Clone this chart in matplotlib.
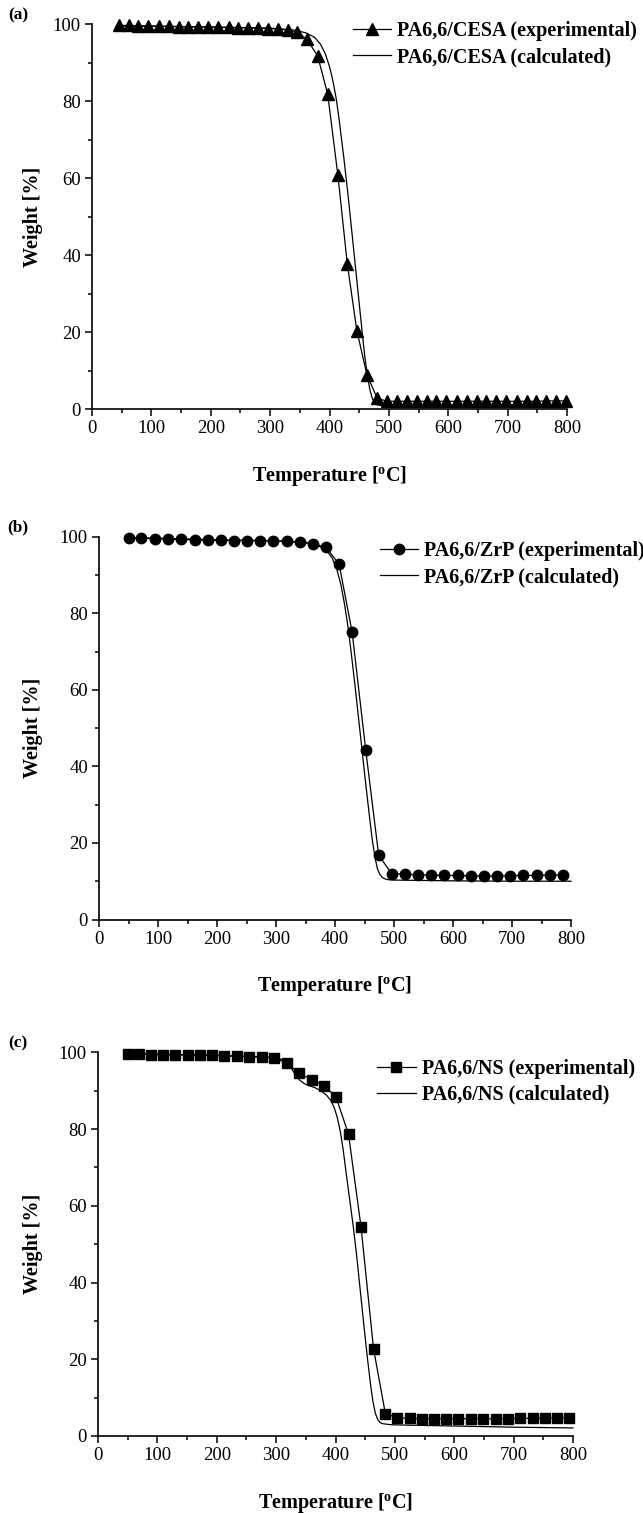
import matplotlib
matplotlib.use('Agg')
import matplotlib.pyplot as plt
from matplotlib.ticker import MultipleLocator

plt.rcParams['font.family'] = ['Liberation Serif', 'DejaVu Serif']
plt.rcParams['mathtext.fontset'] = 'custom'
plt.rcParams['mathtext.rm'] = 'Liberation Serif'
plt.rcParams['mathtext.bf'] = 'Liberation Serif:bold'

# ---------------- data ----------------
# (a) PA6,6/CESA
cesa_exp_T = [45, 62, 78, 95, 112, 129, 146, 162, 179, 196, 213, 230, 246, 263, 280, 297, 313, 330,
              345, 362, 380, 397, 414, 430, 446, 463, 480, 496, 513, 530, 547, 564, 580, 597, 614,
              631, 648, 664, 681, 698, 715, 732, 748, 765, 782, 798]
cesa_exp_W = [99.7, 99.7, 99.6, 99.6, 99.5, 99.5, 99.4, 99.4, 99.3, 99.3, 99.2, 99.2, 99.1, 99.1, 99.0,
              98.9, 98.8, 98.5, 97.9, 96.1, 91.8, 81.8, 60.9, 37.7, 20.4, 8.9, 2.9, 2.0, 2.0, 2.0, 2.0,
              2.0, 2.0, 2.0, 2.0, 2.0, 2.0, 2.0, 2.0, 2.0, 2.0, 2.0, 2.0, 2.1, 2.1, 2.1]
cesa_calc_T = [45, 100, 200, 300, 340, 360, 375, 385, 393, 400, 404, 408, 412, 416, 420, 424, 428, 432,
               436, 440, 444, 448, 452, 456, 460, 464, 468, 472, 476, 480, 490, 500, 600, 700, 800]
cesa_calc_W = [99.6, 99.5, 99.3, 99.0, 98.5, 97.8, 96.6, 94.8, 92.3, 89.0, 86.5, 83.5, 80.0, 75.5, 70.5,
               65.5, 60.0, 54.5, 48.5, 42.5, 36.5, 30.5, 24.5, 18.5, 13.0, 8.5, 5.0, 2.8, 1.6, 1.1, 0.8,
               0.7, 0.6, 0.6, 0.6]

# (b) PA6,6/ZrP
zrp_exp_T = [50, 72, 95, 117, 139, 162, 184, 206, 228, 251, 273, 295, 318, 340, 362, 385, 407, 429,
             452, 474, 496, 519, 541, 563, 585, 608, 630, 652, 675, 697, 719, 742, 764, 786]
zrp_exp_W = [99.7, 99.6, 99.5, 99.4, 99.3, 99.2, 99.1, 99.1, 99.0, 99.0, 99.0, 98.9, 98.8, 98.6, 98.2,
             97.2, 92.8, 75.1, 44.4, 16.8, 12.0, 11.8, 11.7, 11.6, 11.5, 11.5, 11.4, 11.4, 11.4, 11.4,
             11.5, 11.5, 11.6, 11.7]
zrp_calc_T = [45, 100, 200, 300, 350, 370, 385, 395, 403, 410, 416, 422, 428, 434, 440, 446, 452, 458,
              463, 468, 472, 476, 480, 485, 490, 500, 550, 600, 700, 800]
zrp_calc_W = [99.8, 99.6, 99.2, 98.9, 98.5, 97.8, 96.5, 94.5, 91.5, 87.5, 82.5, 76.5, 69.0, 61.0, 52.5,
              44.0, 35.5, 27.5, 21.0, 16.0, 13.2, 11.8, 11.0, 10.6, 10.4, 10.3, 10.2, 10.1, 10.0, 10.0]

# (c) PA6,6/NS
ns_exp_T = [50, 69, 89, 110, 130, 151, 172, 192, 213, 234, 255, 276, 297, 318, 339, 360, 381, 401, 422,
            443, 464, 484, 504, 525, 545, 566, 586, 607, 628, 649, 670, 690, 711, 732, 752, 773, 794]
ns_exp_W = [99.5, 99.5, 99.4, 99.4, 99.3, 99.3, 99.2, 99.2, 99.1, 99.0, 98.9, 98.8, 98.5, 97.2, 94.5,
            92.9, 91.3, 88.3, 78.6, 54.5, 22.8, 5.8, 4.8, 4.6, 4.5, 4.5, 4.5, 4.5, 4.5, 4.5, 4.5, 4.5,
            4.6, 4.6, 4.6, 4.7, 4.7]
ns_calc_T = [45, 100, 200, 300, 315, 325, 333, 340, 348, 356, 365, 375, 385, 392, 398, 403, 408, 413,
             418, 424, 430, 436, 442, 448, 454, 459, 463, 467, 471, 475, 480, 490, 500, 600, 700, 800]
ns_calc_W = [99.6, 99.5, 99.2, 98.6, 97.8, 96.0, 94.0, 92.7, 91.8, 91.3, 90.8, 90.0, 88.8, 87.5, 85.5,
             83.0, 79.5, 74.5, 68.5, 61.5, 54.5, 46.5, 37.5, 28.5, 20.0, 13.5, 9.0, 6.0, 4.3, 3.5, 3.2,
             3.0, 2.9, 2.6, 2.3, 2.1]

x_label = 'Temperature [$\\mathbf{^{o}}$C]'
y_label = 'Weight [%]'
panel_tags = ['(a)', '(b)', '(c)']
exp_labels = ['PA6,6/CESA (experimental)', 'PA6,6/ZrP (experimental)', 'PA6,6/NS (experimental)']
calc_labels = ['PA6,6/CESA (calculated)', 'PA6,6/ZrP (calculated)', 'PA6,6/NS (calculated)']

# ---------------- layout ----------------
W, H = 643, 1513
fig = plt.figure(figsize=(W / 100, H / 100), dpi=100)

# pixel geometry: (left, right, top(100), bottom(0))
geoms = [(92, 567, 24.3, 409.0), (99, 571, 536.7, 919.5), (98, 573, 1052.3, 1436.0)]
markers = ['^', 'o', 's']
msizes = [8, 7.5, 6.5]
series = [(cesa_exp_T, cesa_exp_W, cesa_calc_T, cesa_calc_W),
          (zrp_exp_T, zrp_exp_W, zrp_calc_T, zrp_calc_W),
          (ns_exp_T, ns_exp_W, ns_calc_T, ns_calc_W)]
leg_x = [0.549, 0.595, 0.588]
leg_y = [1.008, 0.988, 0.983]

for i, (l, r, t, b) in enumerate(geoms):
    ax = fig.add_axes([l / W, 1 - b / H, (r - l) / W, (b - t) / H])
    eT, eW, cT, cW = series[i]
    h1, = ax.plot(eT, eW, color='black', lw=0.9, marker=markers[i], ms=msizes[i],
                  markerfacecolor='black', markeredgecolor='black', clip_on=False, zorder=3)
    h2, = ax.plot(cT, cW, color='black', lw=0.9, clip_on=False, zorder=2)
    ax.set_xlim(0, 800)
    ax.set_ylim(0, 100)
    for s in ['top', 'right']:
        ax.spines[s].set_visible(False)
    for s in ['left', 'bottom']:
        ax.spines[s].set_linewidth(1.2)
    ax.xaxis.set_major_locator(MultipleLocator(100))
    ax.xaxis.set_minor_locator(MultipleLocator(50))
    ax.yaxis.set_major_locator(MultipleLocator(20))
    ax.yaxis.set_minor_locator(MultipleLocator(10))
    ax.tick_params(which='major', direction='out', length=5, width=1.1, labelsize=13.5, pad=3)
    ax.tick_params(which='minor', direction='out', length=3, width=1.1)
    ax.legend([h1, h2], [exp_labels[i], calc_labels[i]], loc='upper left',
              bbox_to_anchor=(leg_x[i], leg_y[i]), frameon=False,
              prop={'family': 'Liberation Serif', 'weight': 'bold', 'size': 14.5},
              handlelength=1.9, handletextpad=0.3, labelspacing=0.3, borderpad=0,
              borderaxespad=0, numpoints=1)
    cx = (l + r) / 2
    fig.text(cx / W, 1 - (b + 67) / H, x_label, ha='center', va='center',
             fontsize=14.5, fontweight='bold')
    fig.text(33 / W, 1 - ((t + b) / 2) / H, y_label, ha='center', va='center',
             rotation=90, fontsize=14.5, fontweight='bold')
    fig.text(18 / W, 1 - (t - 9) / H, panel_tags[i], ha='center', va='center',
             fontsize=12.5, fontweight='bold')

fig.savefig('out.png', dpi=100)
